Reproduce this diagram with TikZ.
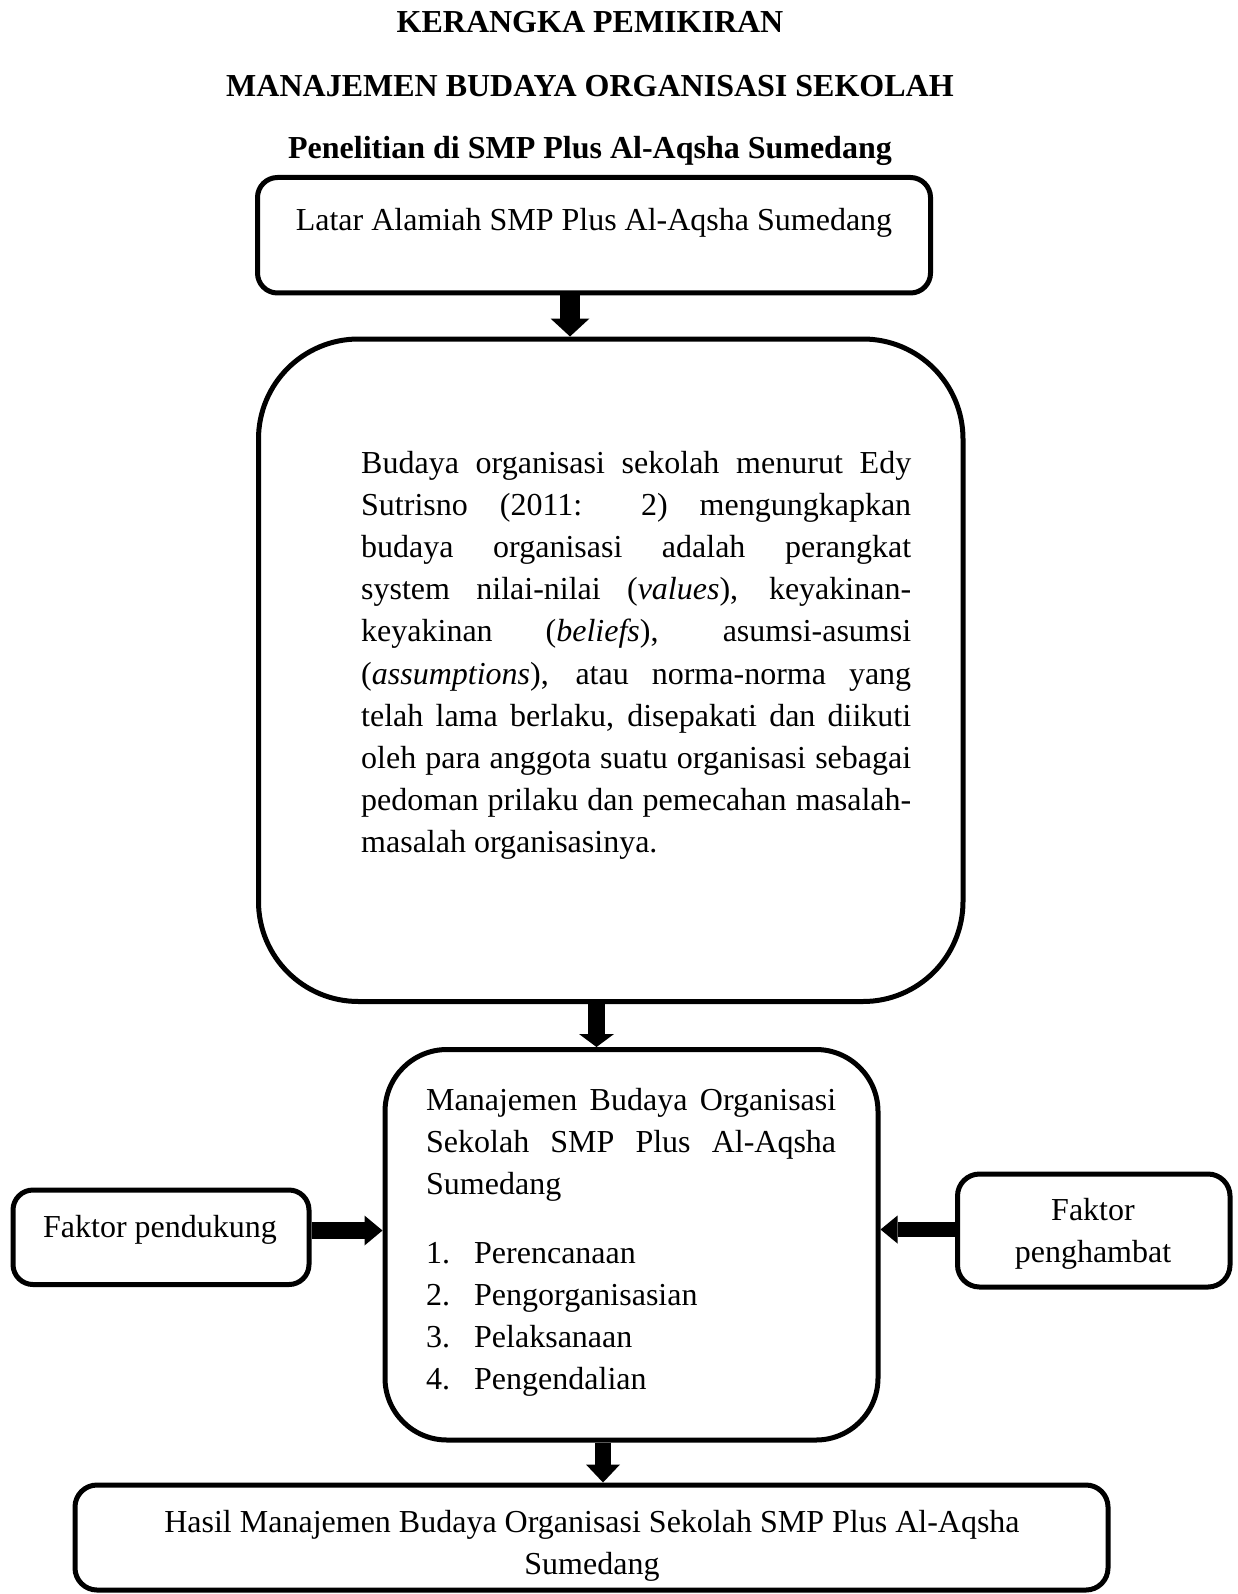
\documentclass[tikz,border=0pt]{standalone}
\usepackage{fontspec}
\setmainfont{Liberation Serif}
\usetikzlibrary{arrows.meta}
\begin{document}
\begin{tikzpicture}[x=1pt,y=-1pt,
  box/.style={draw=black,line width=5pt,inner sep=0pt},
  txt/.style={inner sep=0pt,font=\fontsize{32}{42.2}\selectfont},
  ttl/.style={inner sep=0pt,font=\fontsize{32}{42.2}\selectfont\bfseries},
  blockarrow/.style n args={3}{line width=#1,-{Triangle[width=#2,length=#3,line width=0pt]}},
]
\useasboundingbox (0,0) rectangle (1238,1594);

% titles
\node[ttl,anchor=base] (t1) at (590,33) {KERANGKA PEMIKIRAN};
\node[ttl,anchor=base] (t2) at (590,97) {MANAJEMEN BUDAYA ORGANISASI SEKOLAH};
\node[ttl,anchor=base] (t3) at (590,159) {Penelitian di SMP Plus Al-Aqsha Sumedang};

% boxes
\node[box,rounded corners=20pt,minimum width=673pt,minimum height=115.5pt] (b1) at (594,235.25) {};
\node[box,rounded corners=100pt,minimum width=704.5pt,minimum height=662.5pt] (b2) at (610.75,670.25) {};
\node[box,rounded corners=62pt,minimum width=493pt,minimum height=390.5pt] (b3) at (631.5,1244.75) {};
\node[box,rounded corners=22pt,minimum width=1033pt,minimum height=105pt] (b4) at (591.5,1537.5) {};
\node[box,rounded corners=20pt,minimum width=296pt,minimum height=94.5pt] (fp) at (161,1237.25) {};
\node[box,rounded corners=22pt,minimum width=272.5pt,minimum height=113pt] (fh) at (1093.75,1230.5) {};

% texts (multi-line nodes are anchored at the baseline of their last line)
\node[txt,anchor=base] (b1t) at (594,231) {Latar Alamiah SMP Plus Al-Aqsha Sumedang};

\node[txt,anchor=base west,align=left] (b2t) at (361,852.8) {%
\makebox[550pt][s]{Budaya organisasi sekolah menurut Edy}\\
\makebox[550pt][s]{Sutrisno (2011: 2) mengungkapkan}\\
\makebox[550pt][s]{budaya organisasi adalah perangkat}\\
\makebox[550pt][s]{system nilai-nilai (\textit{values}), keyakinan-}\\
\makebox[550pt][s]{keyakinan (\textit{beliefs}), asumsi-asumsi}\\
\makebox[550pt][s]{(\textit{assumptions}), atau norma-norma yang}\\
\makebox[550pt][s]{telah lama berlaku, disepakati dan diikuti}\\
\makebox[550pt][s]{oleh para anggota suatu organisasi sebagai}\\
\makebox[550pt][s]{pedoman prilaku dan pemecahan masalah-}\\
masalah organisasinya.};

\node[txt,anchor=base west,align=left] (b3t) at (426,1194.4) {%
\makebox[410pt][s]{Manajemen Budaya Organisasi}\\
\makebox[410pt][s]{Sekolah SMP Plus Al-Aqsha}\\
Sumedang};

\node[txt,anchor=base west,align=left] (b3l) at (426,1389.6) {%
\makebox[48pt][l]{1.}Perencanaan\\
\makebox[48pt][l]{2.}Pengorganisasian\\
\makebox[48pt][l]{3.}Pelaksanaan\\
\makebox[48pt][l]{4.}Pengendalian};

\node[txt,anchor=base,align=center] (b4t) at (592,1574.2) {Hasil Manajemen Budaya Organisasi Sekolah SMP Plus Al-Aqsha\\Sumedang};

\node[txt,anchor=base] (fpt) at (160,1237) {Faktor pendukung};
\node[txt,anchor=base,align=center] (fht) at (1093,1262.2) {Faktor\\penghambat};

% arrow positions
\coordinate (a1) at (570,0);
\coordinate (a2) at (596.5,0);
\coordinate (a3) at (603,0);
\coordinate (a4) at (0,1230.5);
\coordinate (a5) at (0,1229.5);

\draw[blockarrow={20pt}{39pt}{18pt}] (b1.south -| a1) -- (b2.north -| a1);
\draw[blockarrow={17pt}{35pt}{13pt}] (b2.south -| a2) -- (b3.north -| a2);
\draw[blockarrow={16pt}{34pt}{18pt}] (b3.south -| a3) -- (b4.north -| a3);
\draw[blockarrow={17pt}{30pt}{18pt},line join=round] (fp.east |- a4) -- (b3.west |- a4);
\draw[blockarrow={15pt}{28pt}{17pt},line join=round] (fh.west |- a5) -- (b3.east |- a5);
\end{tikzpicture}
\end{document}
